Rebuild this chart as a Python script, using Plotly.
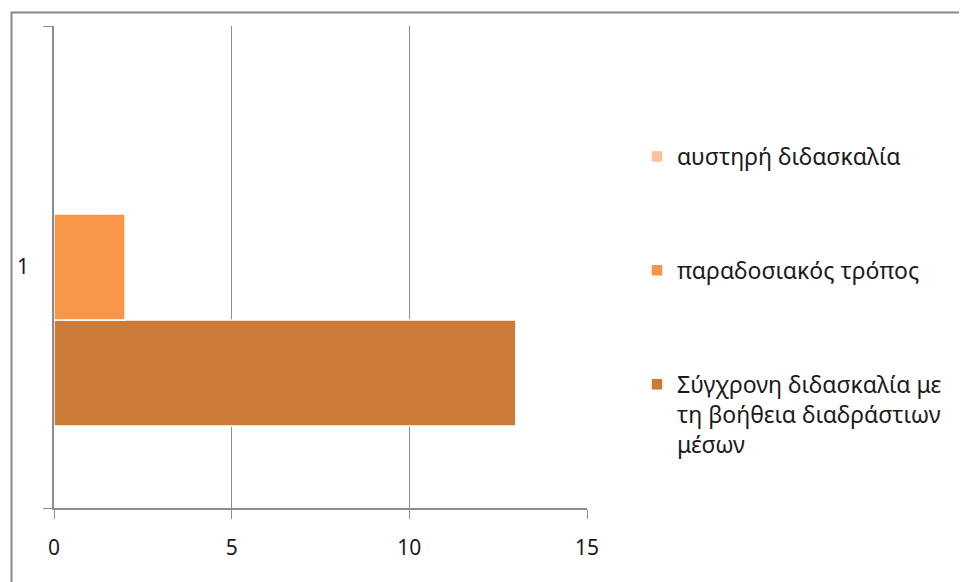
import plotly.graph_objects as go

categories = ["1"]
series_names = [
    "Σύγχρονη διδασκαλία με<br>τη βοήθεια διαδράστιων<br>μέσων",
    "παραδοσιακός τρόπος",
    "αυστηρή διδασκαλία",
]
series_values = [[13], [2], [0]]
series_colors = ["#CB7A38", "#F79646", "#FAC0A0"]
x_ticks = [0, 5, 10, 15]

# page has an 8px body margin, so the figure origin sits at page (8, 8)
OFF = 8
W, H = 959, 574
L, R, T, B = 54 - OFF, 380, 26 - OFF, 74
pw, ph = W - L - R, H - T - B

fig = go.Figure()
n = len(series_names)
for i, (name, vals, col) in enumerate(zip(series_names, series_values, series_colors)):
    fig.add_trace(go.Bar(
        y=categories, x=vals, name=name, orientation="h",
        marker=dict(color=col, line=dict(color="white", width=1.5)),
        legendgroup=f"g{i}", legendrank=100 * (n - i),
    ))

def px_x(p):
    return (p - OFF - L) / pw

def px_y(p):
    return (H - B - (p - OFF)) / ph

fig.update_layout(
    width=W, height=H,
    margin=dict(l=L, r=R, t=T, b=B, autoexpand=False),
    barmode="group", bargap=0.34, bargroupgap=0,
    plot_bgcolor="white", paper_bgcolor="white",
    font=dict(family="Noto Sans", size=21, color="#1a1a1a"),
    showlegend=True,
    legend=dict(
        x=px_x(637), xanchor="left", y=px_y(135), yanchor="top",
        traceorder="grouped", tracegroupgap=81, valign="top",
        font=dict(size=23, color="#1a1a1a"), itemwidth=30,
        bgcolor="rgba(0,0,0,0)",
    ),
    xaxis=dict(
        range=[0, 15], tickvals=x_ticks, showgrid=True, gridcolor="#8c8c8c", gridwidth=1,
        showline=True, linecolor="#8c8c8c", linewidth=1.5, ticks="outside", ticklen=9,
        tickcolor="#8c8c8c", zeroline=False, ticklabelstandoff=11, fixedrange=True,
        automargin=False,
    ),
    yaxis=dict(
        type="category", showline=True, linecolor="#8c8c8c", linewidth=1.5,
        ticks="outside", ticklen=9, tickcolor="#8c8c8c", tickson="boundaries",
        showgrid=False, ticklabelstandoff=19, fixedrange=True, automargin=False,
    ),
    shapes=[dict(
        type="rect", xref="paper", yref="paper",
        x0=px_x(11.5), x1=px_x(W + 40), y0=px_y(H + 40), y1=px_y(12.5),
        line=dict(color="#8a8a8a", width=2), layer="below",
    )],
)

fig.write_html("out.html")
